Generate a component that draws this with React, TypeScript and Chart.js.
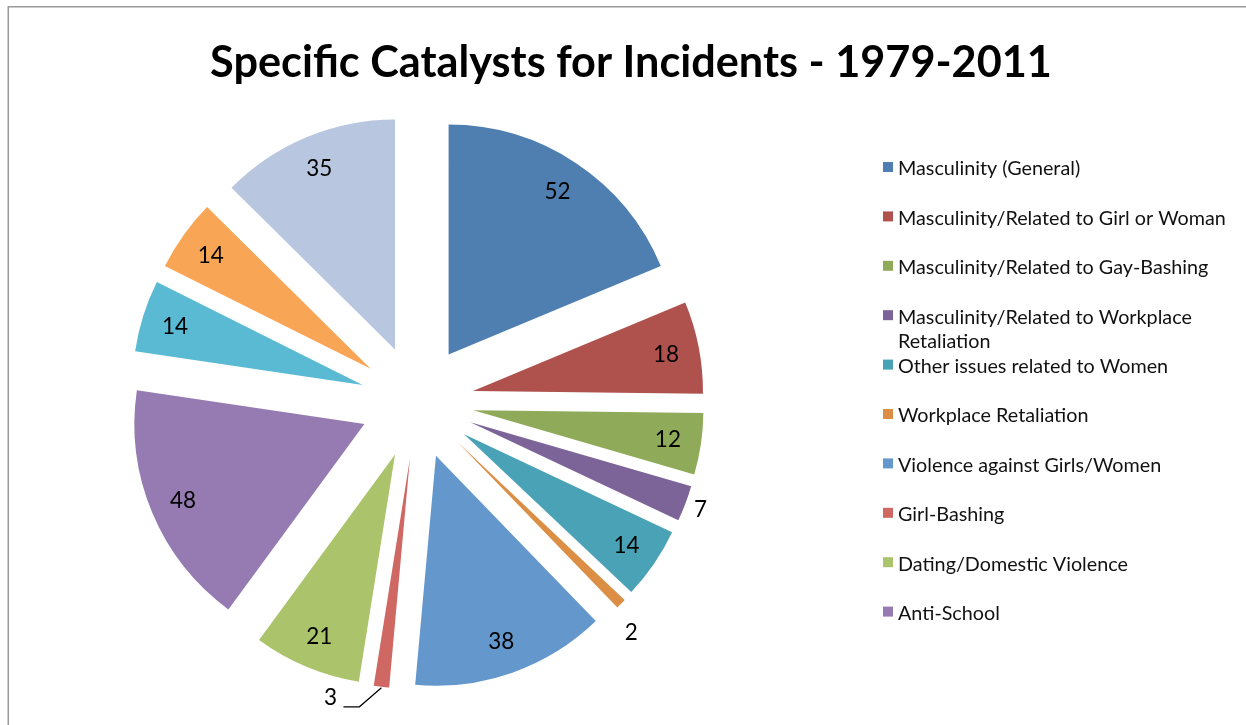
import { useEffect, useRef } from 'react';
import { Chart, registerables } from 'chart.js';

Chart.register(...registerables);

const chartTitle = 'Specific Catalysts for Incidents - 1979-2011';
const categories = [
  'Masculinity (General)',
  'Masculinity/Related to Girl or Woman',
  'Masculinity/Related to Gay-Bashing',
  'Masculinity/Related to Workplace Retaliation',
  'Other issues related to Women',
  'Workplace Retaliation',
  'Violence against Girls/Women',
  'Girl-Bashing',
  'Dating/Domestic Violence',
  'Anti-School',
  '',
  '',
  '',
];
const incidents = [52, 18, 12, 7, 14, 2, 38, 3, 21, 48, 14, 14, 35];
const sliceColors = [
  '#4F7FB1',
  '#AF524E',
  '#8FAA58',
  '#7D6498',
  '#4AA2B6',
  '#DB8E44',
  '#6497CC',
  '#CF6763',
  '#ABC46C',
  '#957BB1',
  '#5BBAD3',
  '#F8A656',
  '#B8C6E0',
];

const FONT = 'Lato, "Open Sans", sans-serif';
const EXPLODE = 57;
const RADIUS = 230;

function fitSize(ctx: CanvasRenderingContext2D, text: string, weight: string, target: number) {
  ctx.font = `${weight} 100px ${FONT}`;
  const w = ctx.measureText(text).width;
  return (100 * target) / w;
}

const framePlugin = {
  id: 'frame',
  beforeDraw(chart: any) {
    const ctx = chart.ctx as CanvasRenderingContext2D;
    ctx.save();
    ctx.fillStyle = '#ffffff';
    ctx.fillRect(0, 0, chart.width, chart.height);
    ctx.strokeStyle = '#9a9a9a';
    ctx.lineWidth = 1.5;
    ctx.beginPath();
    ctx.moveTo(8.25, chart.height);
    ctx.lineTo(8.25, 6.75);
    ctx.lineTo(chart.width, 6.75);
    ctx.stroke();
    ctx.restore();
  },
};

const explodePlugin = {
  id: 'explode',
  beforeDatasetDraw(chart: any, args: any) {
    const ctx = chart.ctx as CanvasRenderingContext2D;
    args.meta.data.forEach((arc: any) => {
      const mid = (arc.startAngle + arc.endAngle) / 2;
      ctx.save();
      ctx.translate(Math.cos(mid) * EXPLODE, Math.sin(mid) * EXPLODE);
      arc.draw(ctx);
      ctx.restore();
    });
    return false;
  },
};

const labelPlugin = {
  id: 'sliceLabels',
  afterDatasetsDraw(chart: any) {
    const ctx = chart.ctx as CanvasRenderingContext2D;
    const meta = chart.getDatasetMeta(0);
    const values = chart.data.datasets[0].data as number[];
    const outside: Record<number, { gap?: number; turn?: number; leader?: boolean }> = {
      3: { gap: 16 },
      5: { gap: 27, turn: 2.3 },
      7: { leader: true },
    };
    ctx.save();
    ctx.font = `normal 22.5px ${FONT}`;
    ctx.fillStyle = '#000000';
    ctx.strokeStyle = '#000000';
    ctx.textAlign = 'center';
    ctx.textBaseline = 'middle';
    meta.data.forEach((arc: any, i: number) => {
      const mid = (arc.startAngle + arc.endAngle) / 2;
      const dx = Math.cos(mid);
      const dy = Math.sin(mid);
      const text = String(values[i]);
      const o = outside[i];
      if (!o) {
        const d = EXPLODE + arc.outerRadius * 0.855;
        ctx.fillText(text, arc.x + dx * d, arc.y + dy * d + 1);
      } else if (o.leader) {
        const d = EXPLODE + arc.outerRadius;
        const sx = arc.x + dx * d;
        const sy = arc.y + dy * d + 1;
        const ex = sx - 22;
        const ey = sy + 19;
        const fx = ex - 16;
        ctx.lineWidth = 1.2;
        ctx.beginPath();
        ctx.moveTo(sx, sy);
        ctx.lineTo(ex, ey);
        ctx.lineTo(fx, ey);
        ctx.stroke();
        ctx.fillText(text, fx - 13, ey - 9);
      } else {
        const a = mid + ((o.turn || 0) * Math.PI) / 180;
        const d = EXPLODE + arc.outerRadius + (o.gap || 0);
        ctx.fillText(text, arc.x + Math.cos(a) * d, arc.y + Math.sin(a) * d + 1);
      }
    });
    ctx.restore();
  },
};

const titleLegendPlugin = {
  id: 'titleLegend',
  afterDraw(chart: any) {
    const ctx = chart.ctx as CanvasRenderingContext2D;
    ctx.save();
    // title
    const tSize = fitSize(ctx, chartTitle, 'bold', 842);
    ctx.font = `bold ${tSize}px ${FONT}`;
    ctx.fillStyle = '#000000';
    ctx.textAlign = 'center';
    ctx.textBaseline = 'alphabetic';
    ctx.fillText(chartTitle, 631, 77);

    // legend
    const lSize = fitSize(ctx, categories[1], 'normal', 328);
    ctx.font = `normal ${lSize}px ${FONT}`;
    ctx.textAlign = 'left';
    ctx.textBaseline = 'middle';
    const maxW = 336;
    const named = categories.filter((c) => c !== '');
    named.forEach((name, i) => {
      const y = 168 + i * 49.4;
      ctx.fillStyle = sliceColors[i];
      ctx.fillRect(883, y - 6, 10, 10);
      ctx.fillStyle = '#111111';
      const words = name.split(' ');
      const lines: string[] = [];
      let cur = '';
      words.forEach((w) => {
        const test = cur ? cur + ' ' + w : w;
        if (ctx.measureText(test).width > maxW && cur) {
          lines.push(cur);
          cur = w;
        } else {
          cur = test;
        }
      });
      if (cur) lines.push(cur);
      lines.forEach((ln, j) => ctx.fillText(ln, 898, y + 1 + j * 24));
    });
    ctx.restore();
  },
};

export default function App() {
  const canvasRef = useRef<HTMLCanvasElement | null>(null);

  useEffect(() => {
    if (!canvasRef.current) return;
    const chart = new Chart(canvasRef.current, {
      type: 'pie',
      data: {
        labels: categories,
        datasets: [
          {
            data: incidents,
            backgroundColor: sliceColors,
            borderWidth: 0,
          },
        ],
      },
      options: {
        responsive: false,
        animation: false,
        radius: RADIUS,
        layout: { padding: { left: 0, right: 412, top: 79, bottom: 0 } },
        plugins: {
          legend: { display: false },
          title: { display: false },
          tooltip: { enabled: false },
        },
      } as any,
      plugins: [framePlugin, explodePlugin, labelPlugin, titleLegendPlugin],
    });
    return () => chart.destroy();
  }, []);

  return (
    <div style={{ position: 'absolute', left: 0, top: 0, width: 1246, height: 725 }}>
      <canvas ref={canvasRef} width={1246} height={725} style={{ width: 1246, height: 725 }} />
    </div>
  );
}
